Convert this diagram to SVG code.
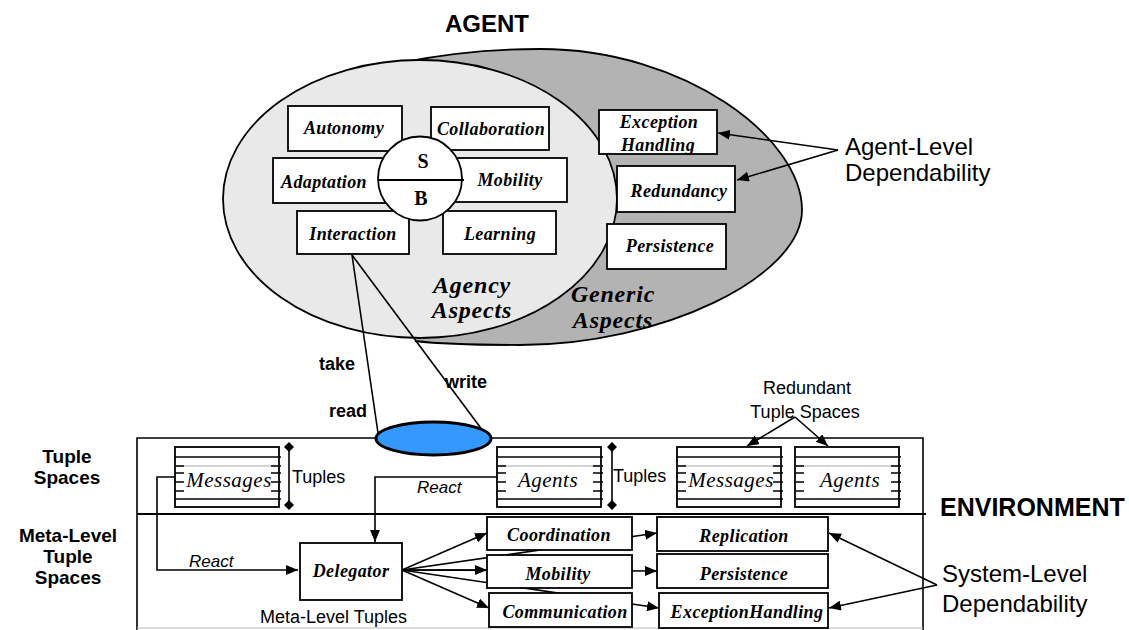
<svg xmlns="http://www.w3.org/2000/svg" width="1129" height="630" viewBox="0 0 1129 630">
<style>
.box{fill:#fff;stroke:#000;stroke-width:1.8}
.ln{fill:none;stroke:#000;stroke-width:1.6}
.bi{font-family:"Liberation Serif",serif;font-weight:bold;font-style:italic;font-size:18px;letter-spacing:0.4px;text-anchor:middle}
.big{font-family:"Liberation Serif",serif;font-weight:bold;font-style:italic;font-size:24px;letter-spacing:0.8px;text-anchor:middle}
.ti{font-family:"Liberation Serif",serif;font-style:italic;font-size:21px;letter-spacing:0.5px;text-anchor:middle}
.sa{font-family:"Liberation Sans",Arial,sans-serif;font-size:18px}
.sai{font-family:"Liberation Sans",Arial,sans-serif;font-size:17px;font-style:italic}
.lab{font-family:"Liberation Sans",Arial,sans-serif;font-size:24px}
.hd{font-family:"Liberation Sans",Arial,sans-serif;font-weight:bold}
.sb{font-family:"Liberation Serif",serif;font-weight:bold;font-size:20px;text-anchor:middle}
</style>
<defs>
<marker id="ah" viewBox="0 0 12 10" refX="12" refY="5" markerWidth="12" markerHeight="10" markerUnits="userSpaceOnUse" orient="auto"><path d="M0,0 L12,5 L0,10 Z" fill="#000"/></marker>
<marker id="dm" viewBox="0 0 10 10" refX="5" refY="5" markerWidth="10" markerHeight="10" markerUnits="userSpaceOnUse" orient="auto"><path d="M0,5 L5,0 L10,5 L5,10 Z" fill="#000"/></marker>
<g id="tbox">
<rect x="0" y="0" width="104" height="60" fill="#fff" stroke="#000" stroke-width="1.8"/>
<line x1="0" y1="10" x2="106" y2="10" stroke="#000" stroke-width="1.6"/>
<line x1="0" y1="19" x2="106" y2="19" stroke="#aaa" stroke-width="1"/>
<line x1="0" y1="52" x2="106" y2="52" stroke="#000" stroke-width="1.6"/>
<path d="M0,19 H9 M0,26 H9 M0,35 H9 M0,44 H9 M96,19 H106 M96,26 H106 M96,35 H106 M96,44 H106" stroke="#000" stroke-width="1.5"/>
</g>
</defs>

<g id="agent-ellipses">
<path d="M405,62 C440,55 490,49 540,49 C685,49 802,138 802,210 C802,277 661,345 520,345 C480,345 440,344 415,341 L415,200 Z" fill="#b3b3b3" stroke="none"/>
<path d="M405,62 C440,55 490,49 540,49 C685,49 802,138 802,210 C802,277 661,345 520,345 C480,345 440,344 415,341" fill="none" stroke="#000" stroke-width="1.8"/>
<ellipse cx="420" cy="199" rx="197" ry="139" fill="#e9e9e9" stroke="#000" stroke-width="1.8"/>
</g>

<text class="hd" x="487" y="32" font-size="24" text-anchor="middle">AGENT</text>

<g id="autonomy"><rect class="box" x="288" y="106" width="114" height="45"/><text class="bi" x="344" y="134">Autonomy</text></g>
<g id="collaboration"><rect class="box" x="431" y="107" width="118" height="43"/><text class="bi" x="491" y="135">Collaboration</text></g>
<g id="adaptation"><rect class="box" x="273" y="158" width="117" height="45"/><text class="bi" x="324" y="188">Adaptation</text></g>
<g id="mobility-a"><rect class="box" x="450" y="158" width="117" height="44"/><text class="bi" x="510" y="186">Mobility</text></g>
<g id="interaction"><rect class="box" x="297" y="211" width="112" height="43"/><text class="bi" x="353" y="240">Interaction</text></g>
<g id="learning"><rect class="box" x="443" y="211" width="113" height="43"/><text class="bi" x="500" y="240">Learning</text></g>
<g id="sb-circle">
<circle cx="420" cy="178.5" r="42" fill="#fff" stroke="#000" stroke-width="1.8"/>
<line x1="378" y1="180" x2="464" y2="180" stroke="#000" stroke-width="1.8"/>
<text class="sb" x="423" y="168">S</text>
<text class="sb" x="421" y="205">B</text>
</g>
<g id="exception-a"><rect class="box" x="599" y="110" width="118" height="44"/><text class="bi" x="659" y="128">Exception</text><text class="bi" x="658" y="151">Handling</text></g>
<g id="redundancy"><rect class="box" x="617" y="166" width="118" height="46"/><text class="bi" x="679" y="197">Redundancy</text></g>
<g id="persistence-a"><rect class="box" x="607" y="224" width="119" height="45"/><text class="bi" x="670" y="252">Persistence</text></g>

<g id="agency-label"><text class="big" x="472" y="293">Agency</text><text class="big" x="472" y="318">Aspects</text></g>
<g id="generic-label"><text class="big" x="613" y="302">Generic</text><text class="big" x="613" y="328">Aspects</text></g>

<g id="agent-dep"><text class="lab" x="845" y="155">Agent-Level</text><text class="lab" x="845" y="181">Dependability</text></g>

<g id="environment-frame">
<path d="M137,630 V438 H923 V630" class="ln" stroke-width="1.8"/>
<line x1="137" y1="514" x2="926" y2="514" stroke="#000" stroke-width="1.8"/>
<line x1="137" y1="628" x2="923" y2="628" stroke="#bbb" stroke-width="1"/>
</g>

<g id="connectors">
<line class="ln" x1="352" y1="255" x2="378" y2="433"/>
<line class="ln" x1="352" y1="255" x2="483" y2="431"/>
<line class="ln" x1="838" y1="150" x2="718" y2="133" marker-end="url(#ah)"/>
<line class="ln" x1="838" y1="150" x2="737" y2="180" marker-end="url(#ah)"/>
<line class="ln" x1="795" y1="417" x2="747" y2="446" marker-end="url(#ah)"/>
<line class="ln" x1="795" y1="417" x2="828" y2="446" marker-end="url(#ah)"/>
<line class="ln" x1="289" y1="447" x2="289" y2="505" marker-start="url(#dm)" marker-end="url(#dm)"/>
<line class="ln" x1="612" y1="447" x2="612" y2="505" marker-start="url(#dm)" marker-end="url(#dm)"/>
<path class="ln" d="M175,477 H157 V570 H298" marker-end="url(#ah)"/>
<path class="ln" d="M497,477 H375 V542" marker-end="url(#ah)"/>
<line class="ln" x1="402" y1="570" x2="657" y2="533" marker-end="url(#ah)"/>
<line class="ln" x1="402" y1="570" x2="657" y2="571" marker-end="url(#ah)"/>
<line class="ln" x1="402" y1="570" x2="659" y2="608" marker-end="url(#ah)"/>
<line class="ln" x1="402" y1="570" x2="487" y2="533" marker-end="url(#ah)"/>
<line class="ln" x1="402" y1="570" x2="487" y2="570" marker-end="url(#ah)"/>
<line class="ln" x1="402" y1="570" x2="489" y2="608" marker-end="url(#ah)"/>
<line class="ln" x1="937" y1="585" x2="829" y2="533" marker-end="url(#ah)"/>
<line class="ln" x1="937" y1="585" x2="829" y2="608" marker-end="url(#ah)"/>
</g>

<g id="tuple-space"><ellipse cx="433.5" cy="438.5" rx="57.5" ry="16.5" fill="#3399ff" stroke="#000" stroke-width="3"/></g>

<g id="ops">
<text class="sa hd" x="319" y="370" font-size="19">take</text>
<text class="sa hd" x="329" y="417" font-size="19">read</text>
<text class="sa hd" x="445" y="388" font-size="19">write</text>
</g>

<g id="left-labels" class="hd" font-size="19" text-anchor="middle">
<text x="67" y="463">Tuple</text><text x="67" y="484">Spaces</text>
<text x="68" y="542">Meta-Level</text><text x="68" y="563">Tuple</text><text x="68" y="584">Spaces</text>
</g>

<g id="messages1"><use href="#tbox" x="175" y="447"/><text class="ti" x="229" y="487">Messages</text></g>
<g id="agents1"><use href="#tbox" x="497" y="447"/><text class="ti" x="548" y="487">Agents</text></g>
<g id="messages2"><use href="#tbox" x="677" y="447"/><text class="ti" x="731" y="487">Messages</text></g>
<g id="agents2"><use href="#tbox" x="795" y="447"/><text class="ti" x="850" y="487">Agents</text></g>

<g id="tuple-labels">
<text class="sa" x="292" y="483">Tuples</text>
<text class="sa" x="613" y="482">Tuples</text>
<text class="sa" x="807" y="394" text-anchor="middle">Redundant</text>
<text class="sa" x="805" y="418" text-anchor="middle">Tuple Spaces</text>
<text class="sai" x="189" y="567">React</text>
<text class="sai" x="417" y="493">React</text>
</g>

<text class="hd" x="940" y="516" font-size="25">ENVIRONMENT</text>

<g id="delegator"><rect class="box" x="300" y="543" width="102" height="57"/><text class="bi" x="351" y="577">Delegator</text></g>
<text class="sa" x="260" y="623">Meta-Level Tuples</text>

<g id="coordination"><rect class="box" x="487" y="517" width="145" height="33"/><text class="bi" x="559" y="541">Coordination</text></g>
<g id="mobility-m"><rect class="box" x="487" y="555" width="145" height="33"/><text class="bi" x="558" y="580">Mobility</text></g>
<g id="communication"><rect class="box" x="489" y="593" width="143" height="34"/><text class="bi" x="565" y="618">Communication</text></g>
<g id="replication"><rect class="box" x="657" y="517" width="171" height="34"/><text class="bi" x="744" y="542">Replication</text></g>
<g id="persistence-m"><rect class="box" x="657" y="554" width="171" height="34"/><text class="bi" x="744" y="580">Persistence</text></g>
<g id="exceptionhandling"><rect class="box" x="659" y="593" width="169" height="35"/><text class="bi" x="747" y="618">ExceptionHandling</text></g>

<g id="system-dep"><text class="lab" x="942" y="582">System-Level</text><text class="lab" x="942" y="612">Dependability</text></g>
</svg>
